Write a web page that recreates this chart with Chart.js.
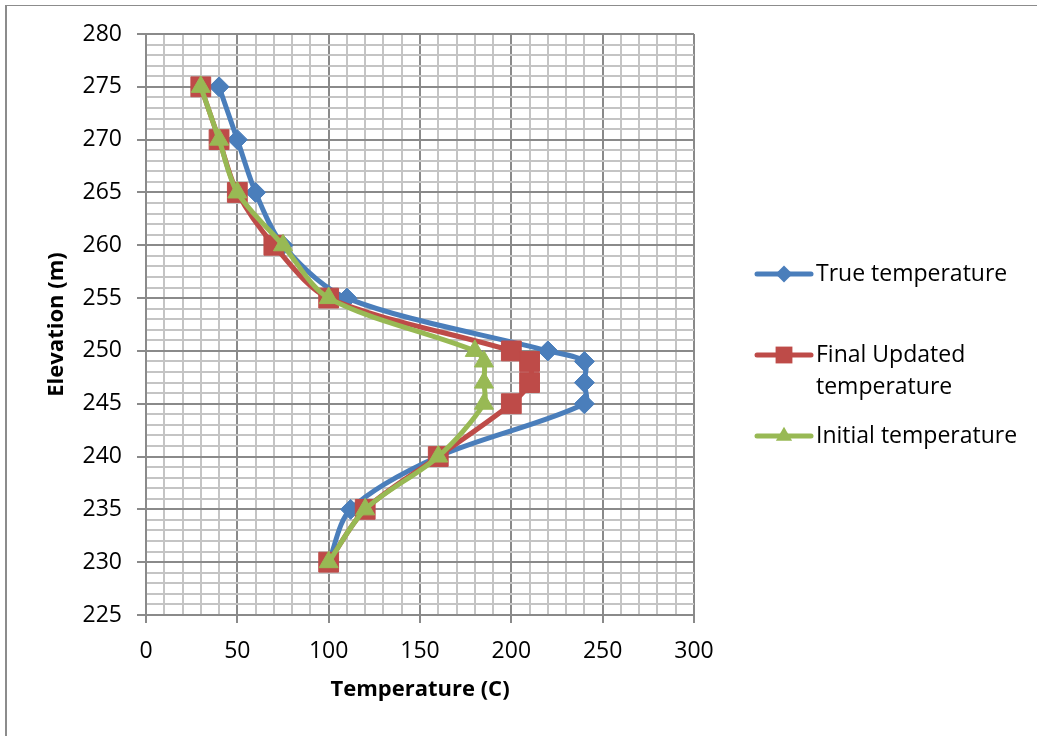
<!DOCTYPE html>
<html>
<head>
<meta charset="utf-8">
<script src="https://cdn.jsdelivr.net/npm/chart.js@4.4.1/dist/chart.umd.min.js"></script>
<style>
  html, body { margin: 0; padding: 0; background: #fff; }
  #wrap { position: relative; width: 1037px; height: 736px; overflow: hidden; }
  canvas { display: block; }
</style>
</head>
<body>
<div id="wrap"><canvas id="chart" width="1037" height="736"></canvas></div>
<script>
// Elevation profile (m) and temperatures (C) at each level
const elevation   = [275, 270, 265, 260, 255, 250, 249, 247, 245, 240, 235, 230];
const trueTemp    = [40, 50, 60, 75, 110, 220, 240, 240, 240, 160, 112, 100];
const finalTemp   = [30, 40, 50, 70, 100, 200, 210, 210, 200, 160, 120, 100];
const initialTemp = [30, 40, 50, 75, 100, 180, 185, 185, 185, 160, 120, 100];

const seriesNames = ['True temperature', 'Final Updated temperature', 'Initial temperature'];

// Axis ranges and label spacing
const xRange = [0, 300];
const yRange = [225, 280];
const xLabelEvery = 50;
const yLabelEvery = 5;

const FONT = "'Open Sans', 'DejaVu Sans', sans-serif";
const MAJOR = '#8a8a8a';
const MINOR = '#c4c4c4';

function toPoints(xs) {
  return xs.map((x, i) => ({ x: x, y: elevation[i] }));
}

function series(label, values, color, style, radius, order) {
  return {
    label: label,
    data: toPoints(values),
    showLine: true,
    borderColor: color,
    backgroundColor: color,
    borderWidth: 5,
    tension: 0.3,
    pointStyle: style,
    pointRadius: radius,
    pointHoverRadius: radius,
    pointBackgroundColor: color,
    pointBorderColor: color,
    pointBorderWidth: 1,
    order: order
  };
}

// Outer frame of the chart area
const framePlugin = {
  id: 'frame',
  beforeDraw(chart) {
    const ctx = chart.ctx;
    ctx.save();
    ctx.fillStyle = '#fff';
    ctx.fillRect(0, 0, chart.width, chart.height);
    ctx.strokeStyle = '#8c8c8c';
    ctx.lineWidth = 1;
    ctx.beginPath();
    ctx.moveTo(5, 5.5);
    ctx.lineTo(chart.width, 5.5);
    ctx.stroke();
    ctx.lineWidth = 2;
    ctx.beginPath();
    ctx.moveTo(6, 5);
    ctx.lineTo(6, chart.height);
    ctx.stroke();
    ctx.restore();
  }
};

function drawMarker(ctx, style, x, y, r, color) {
  ctx.fillStyle = color;
  ctx.beginPath();
  if (style === 'rectRot') {
    ctx.moveTo(x, y - r); ctx.lineTo(x + r, y); ctx.lineTo(x, y + r); ctx.lineTo(x - r, y);
  } else if (style === 'rect') {
    const s = r * Math.SQRT1_2;
    ctx.rect(x - s, y - s, 2 * s, 2 * s);
  } else if (style === 'triangle') {
    const h = r * 1.5;
    const w = r * Math.sqrt(3) / 2;
    ctx.moveTo(x, y - r); ctx.lineTo(x + w, y - r + h); ctx.lineTo(x - w, y - r + h);
  }
  ctx.closePath();
  ctx.fill();
}

// Legend on the right: line sample with marker, wrapped label
const sideLegend = {
  id: 'sideLegend',
  afterDraw(chart, args, opts) {
    const ctx = chart.ctx;
    ctx.save();
    ctx.font = opts.fontSize + 'px ' + FONT;
    ctx.textBaseline = 'middle';
    ctx.textAlign = 'left';
    chart.data.datasets.forEach((ds, i) => {
      const y = opts.rows[i];
      ctx.strokeStyle = ds.borderColor;
      ctx.lineWidth = 5;
      ctx.lineCap = 'round';
      ctx.beginPath();
      ctx.moveTo(opts.lineStart, y);
      ctx.lineTo(opts.lineEnd, y);
      ctx.stroke();
      drawMarker(ctx, ds.pointStyle, (opts.lineStart + opts.lineEnd) / 2, y, ds.pointRadius * 0.85, ds.borderColor);
      // wrap words within the space left of the canvas edge
      const words = ds.label.split(' ');
      const lines = [];
      let cur = '';
      words.forEach(w => {
        const test = cur ? cur + ' ' + w : w;
        if (cur && ctx.measureText(test).width > opts.maxWidth) { lines.push(cur); cur = w; }
        else cur = test;
      });
      if (cur) lines.push(cur);
      ctx.fillStyle = '#000';
      lines.forEach((ln, k) => ctx.fillText(ln, opts.textX, y + k * opts.lineGap));
    });
    ctx.restore();
  }
};

new Chart(document.getElementById('chart'), {
  type: 'scatter',
  data: {
    datasets: [
      series(seriesNames[0], trueTemp, '#4a7ebb', 'rectRot', 10, 3),
      series(seriesNames[1], finalTemp, '#be4b48', 'rect', 14, 2),
      series(seriesNames[2], initialTemp, '#98b954', 'triangle', 11, 1)
    ]
  },
  options: {
    responsive: false,
    animation: false,
    events: [],
    layout: { padding: { left: 20, top: 34, right: 343, bottom: 20 } },
    plugins: {
      legend: { display: false },
      tooltip: { enabled: false },
      sideLegend: {
        rows: [274, 355, 436],
        lineStart: 757, lineEnd: 811, textX: 816,
        lineGap: 32, fontSize: 23, maxWidth: 215
      }
    },
    scales: {
      x: {
        type: 'linear',
        min: xRange[0], max: xRange[1],
        afterFit(scale) { scale.height = 101; },
        ticks: {
          stepSize: 10,
          autoSkip: false,
          maxRotation: 0,
          padding: 15,
          color: '#000',
          font: { family: FONT, size: 23 },
          callback: v => (v % xLabelEvery === 0 ? String(v) : '')
        },
        grid: {
          lineWidth: 2,
          tickLength: 8,
          color: c => (c.tick && c.tick.value % xLabelEvery === 0 ? MAJOR : MINOR),
          tickColor: c => (c.tick && c.tick.value % xLabelEvery === 0 ? MAJOR : 'rgba(0,0,0,0)')
        },
        border: { color: MAJOR, width: 2 },
        title: {
          display: true,
          text: 'Temperature (C)',
          color: '#000',
          font: { family: FONT, size: 22, weight: 'bold' },
          padding: { top: 0, bottom: 13 }
        }
      },
      y: {
        type: 'linear',
        min: yRange[0], max: yRange[1],
        afterFit(scale) { scale.width = 126; },
        ticks: {
          stepSize: 1,
          autoSkip: false,
          padding: 15,
          color: '#000',
          font: { family: FONT, size: 23 },
          callback: v => (v % yLabelEvery === 0 ? String(v) : '')
        },
        grid: {
          lineWidth: 2,
          tickLength: 9,
          color: c => (c.tick && c.tick.value % yLabelEvery === 0 ? MAJOR : MINOR),
          tickColor: c => (c.tick && c.tick.value % yLabelEvery === 0 ? MAJOR : 'rgba(0,0,0,0)')
        },
        border: { color: MAJOR, width: 2 },
        title: {
          display: true,
          text: 'Elevation (m)',
          color: '#000',
          font: { family: FONT, size: 22, weight: 'bold' },
          padding: { top: 24, bottom: 0 }
        }
      }
    }
  },
  plugins: [framePlugin, sideLegend]
});
</script>
</body>
</html>
